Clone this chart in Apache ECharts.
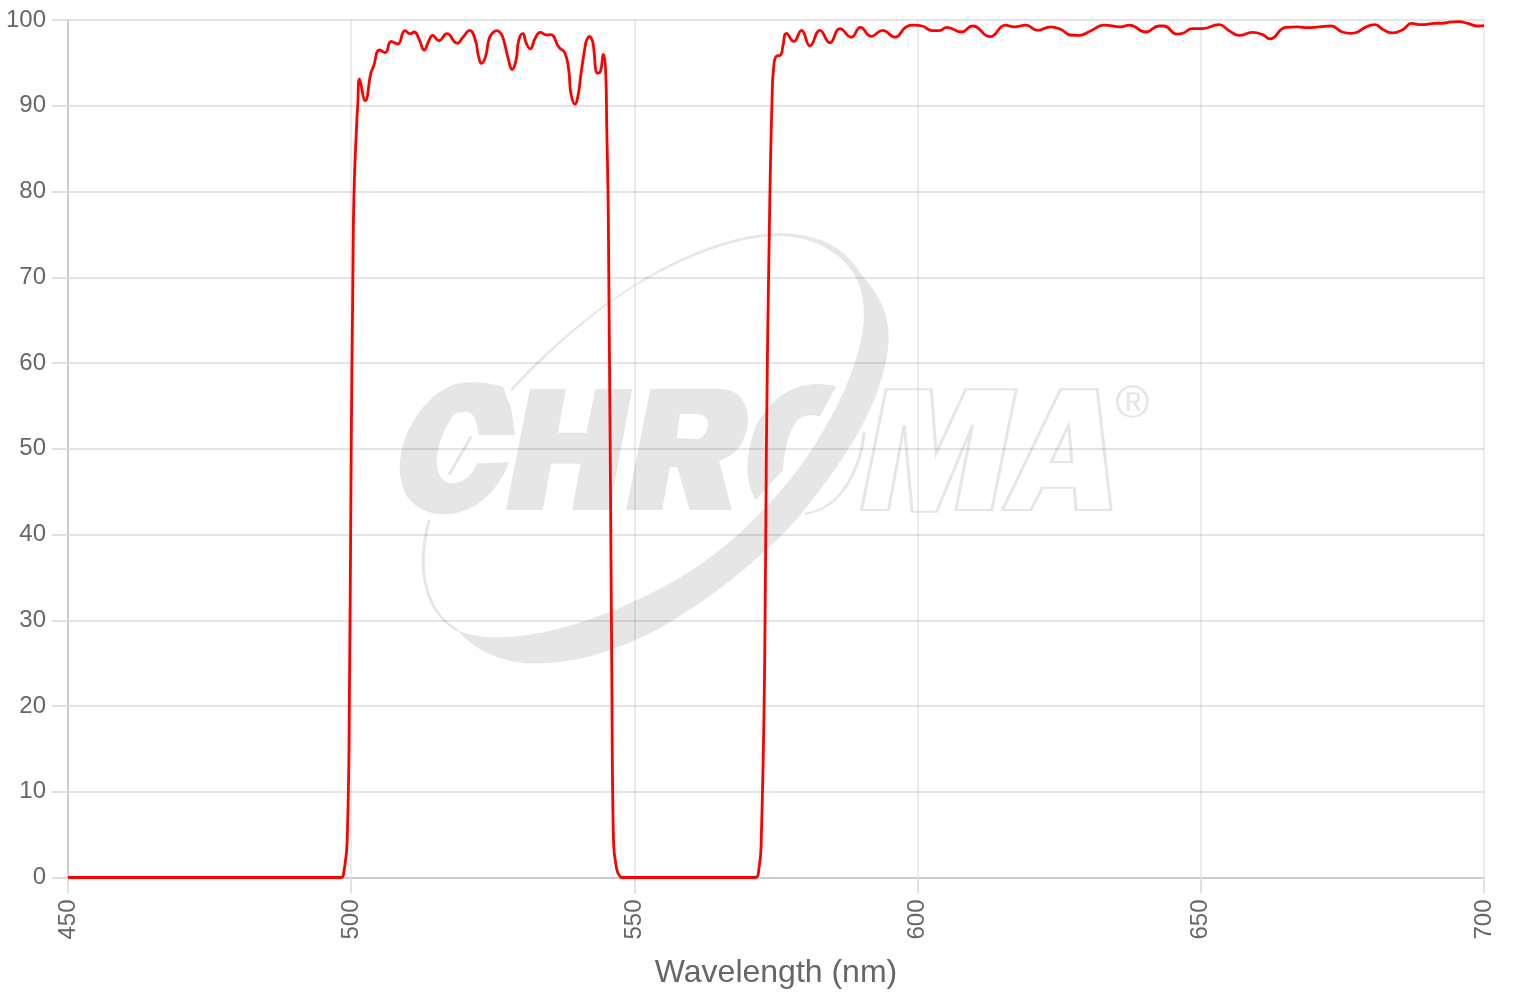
<!DOCTYPE html>
<html><head><meta charset="utf-8">
<style>html,body{margin:0;padding:0;background:#fff}#c{width:1520px;height:1000px}</style>
<script src="https://cdn.jsdelivr.net/npm/echarts@6/dist/echarts.min.js"></script>
</head><body><div id="c"></div>
<script>
const wavelengths = [450,470,490,498.2,498.7,499.3,499.73,500,500.3,500.5,501,501.15,501.47,502.47,503.48,503.95,505,506,507.07,508.2,509.5,510.4,511.1,511.9,512.9,513.66,514.4,515.5,516.9,518.7,519.8,520.9,521.9,522.5,523,523.7,524.3,524.85,525.7,526.45,526.9,527.8,528.4,529.1,529.6,530.3,530.9,531.6,532.5,533.4,534.5,535.2,536.7,537.7,538.4,538.8,539.5,540.1,540.5,541.3,541.6,542.1,542.5,542.7,543.5,544,544.5,545,545.1,545.4,546,546.3,546.9,547.5,548,560,571.3,572,572.4,573,573.3,573.85,574.3,574.6,575.1,575.8,576.2,576.85,578.15,579.5,581,582.75,584.5,586.3,588.3,589.9,591.8,593.8,596,597.9,599.4,600.8,602.6,603.8,605.2,607.7,609.7,612.8,615.5,617,619.1,621.2,623.5,625.3,627,628.5,630.6,632.9,635.8,637.4,640.3,642.6,643.5,645.8,646.8,648.5,650.3,653.2,655,656.8,659.1,660.9,662.2,665,667.1,668.8,670.9,673,675,676.5,677.7,679.2,680.7,682.4,683.9,685.7,687.2,688.9,691.2,693,693.9,695.7,697.1,698.9,700];
const transmission = [0,0,0,0,0.7,4.4,25,50,70,80,88.3,90,93.1,90.6,93.8,94.6,96.5,96.2,97.5,97.2,98.75,98.4,98.6,97.9,96.5,97.5,98.2,97.6,98.4,97.3,98.05,98.8,97.7,95.7,94.95,95.7,97.7,98.4,98.75,98.4,97.7,95.3,94.25,95.3,97.7,98.4,97.3,96.65,97.9,98.55,98.25,98.3,96.8,96.2,94.2,91.4,90.2,91.4,93.4,96.9,97.7,98.1,97.7,97.3,93.8,94,96,92.6,88.3,76.7,25,4.4,0.9,0.1,0,0,0,1.1,4.4,25,50,76.7,90.7,94.55,95.8,95.9,96.9,98.45,97.5,98.8,97,98.8,97.35,99,98,99.15,98.1,98.8,98,99.15,99.4,99.3,98.75,98.75,99.15,98.6,99.3,98.05,99.4,99.2,99.4,98.8,99.2,98.9,98.25,98.2,98.75,99.4,99.2,99.4,98.6,99.3,99.3,98.35,98.45,99,99,99.45,98.75,98.2,98.55,98.3,97.8,99.15,99.2,99.1,99.2,99.3,98.6,98.45,98.6,99.2,99.45,98.8,98.5,98.9,99.6,99.45,99.6,99.65,99.75,99.8,99.6,99.3,99.35];
const xTicks = {min:450,max:700,interval:50};
const yTicks = {min:0,max:100,interval:10};
const xTitle = 'Wavelength (nm)';

const GREY='#666666', FONT='"Liberation Sans", Arial, sans-serif', LOGO='#e6e6e6';
const logoFilled = [
 // swoosh
 'M245 508 C330 370 430 250 530 165 C620 90 710 42 790 40 C880 40 930 90 960 165 C1000 230 1018 290 1015 370 C1008 500 960 640 900 760 C870 820 850 860 830 895 C760 1010 660 1130 560 1215 C470 1290 380 1332 290 1330 C220 1328 170 1285 138 1232 C170 1250 200 1252 230 1252 C330 1248 460 1180 570 1090 C680 1000 760 880 830 750 C900 610 965 420 965 280 C965 200 945 140 900 95 C870 65 830 48 790 48 C710 50 620 100 530 172 C430 255 340 370 247 515 Z',
 // C
 'M230 500 C205 488 170 485 150 488 C100 495 60 560 35 640 C15 710 15 780 35 830 C55 870 85 884 115 882 C160 880 195 840 215 800 C228 775 238 750 242 727 L178 730 C168 765 150 790 125 790 C105 788 95 760 95 720 C97 670 112 625 125 595 C130 580 140 575 155 575 C172 578 178 605 180 645 L254 645 C250 590 248 560 240 540 C236 528 234 512 230 500 Z',
 // H
 'M285 507 L358 507 L342 638 L400 638 L418 507 L493 507 L447 870 L371 870 L388 731 L328 731 L311 870 L236 870 Z',
 // R (outer then reversed hole)
 'M530 506 L660 506 C690 508 705 512 715 535 C728 560 732 600 726 630 C718 680 700 708 670 722 L696 870 L610 870 L585 742 L570 742 L554 870 L481 870 Z M590 582 L584 655 L630 657 C642 645 650 620 648 605 C644 590 636 582 620 582 Z',
 // O left part
 'M908 500 C890 490 865 490 845 495 C800 510 765 560 745 620 C725 690 720 780 745 840 L800 750 C803 690 812 630 830 600 C840 585 860 582 875 590 Z'
];
const logoStroked = [
 'M80 900 C65 980 62 1060 80 1130 C90 1170 108 1205 138 1232',
 'M165 650 L120 765',
 'M965 635 C962 720 930 830 880 865 C868 874 856 878 845 882',
 'M1010 508 L1102 508 L1112 700 L1172 508 L1275 508 L1225 870 L1152 870 L1186 615 L1113 875 L1063 875 L1047 615 L1015 870 L960 870 Z',
 'M1365 508 L1440 508 L1468 870 L1397 870 L1393 803 L1328 803 L1305 870 L1247 870 Z',
 'M1382 615 L1388 726 L1346 726 Z',
 'M1512 499 C1530 499 1542 520 1542 545 C1542 570 1530 590 1512 590 C1494 590 1481 570 1481 545 C1481 520 1494 499 1512 499 Z',
 'M1503 572 L1503 520 L1518 520 C1526 520 1526 545 1518 545 L1503 545 M1515 545 L1525 572'
];
function logoEl(d, i, prefix, style){
  const name = prefix + i;
  echarts.graphic.registerShape(name, echarts.graphic.extendPath(d, {}));
  return {type:name, z:-10, silent:true, style:style};
}
const logoChildren = logoFilled.map((d,i)=>logoEl(d,i,'logoFill',{fill:LOGO}))
 .concat(logoStroked.map((d,i)=>logoEl(d,i,'logoLine',{fill:'none',stroke:LOGO,lineWidth:2.5,strokeNoScale:true})));

const chart = echarts.init(document.getElementById('c'),null,{renderer:'canvas',width:1520,height:1000});
chart.setOption({
 animation:false,
 backgroundColor:'#ffffff',
 graphic:[{type:'group',x:390,y:220,scaleX:1/2.036,scaleY:1/3,silent:true,z:-10,children:logoChildren}],
 grid:{left:68,right:36,top:20,bottom:122.5,containLabel:false},
 xAxis:{type:'value',min:xTicks.min,max:xTicks.max,interval:xTicks.interval,
  name:xTitle,nameLocation:'middle',nameGap:80,
  nameTextStyle:{color:GREY,fontSize:32,fontFamily:FONT},
  axisLine:{show:true,onZero:false,lineStyle:{color:'#cccccc',width:2}},
  axisTick:{show:true,length:16,lineStyle:{color:'#e0e0e0',width:2}},
  axisLabel:{rotate:90,margin:22,color:GREY,fontSize:24,fontFamily:FONT,hideOverlap:false},
  splitLine:{show:true,lineStyle:{color:'rgba(0,0,0,0.1)',width:1.5}}},
 yAxis:{type:'value',min:yTicks.min,max:yTicks.max,interval:yTicks.interval,
  axisLine:{show:true,onZero:false,lineStyle:{color:'#cccccc',width:2}},
  axisTick:{show:true,length:16,lineStyle:{color:'#e0e0e0',width:2}},
  axisLabel:{margin:22,color:GREY,fontSize:24,fontFamily:FONT,hideOverlap:false},
  splitLine:{show:true,lineStyle:{color:'rgba(0,0,0,0.1)',width:2}}},
 series:[{type:'line',data:wavelengths.map((w,i)=>[w,transmission[i]]),
  showSymbol:false,symbol:'none',smooth:0.5,clip:false,
  lineStyle:{color:'#ff0000',width:2.8},z:5}]
});
</script></body></html>
